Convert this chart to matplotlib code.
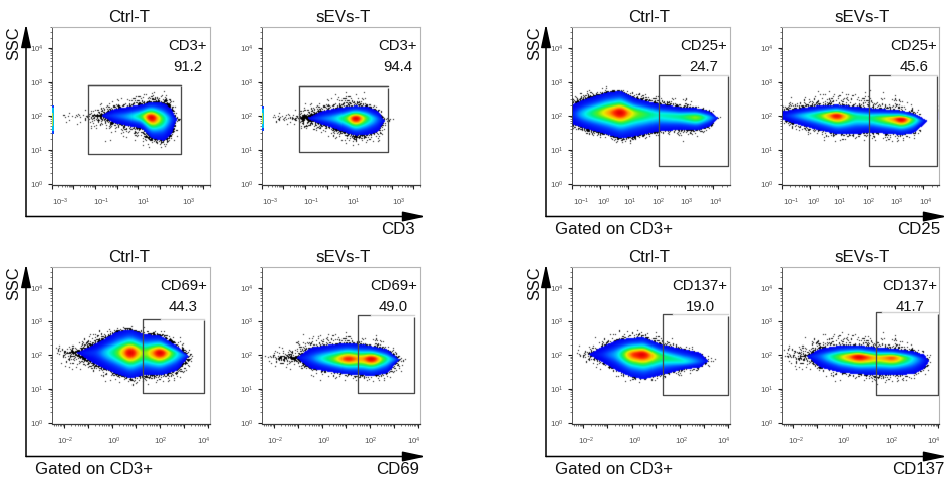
import numpy as np
import matplotlib
matplotlib.use("Agg")
import matplotlib.pyplot as plt
from matplotlib.colors import LinearSegmentedColormap
from matplotlib.patches import FancyArrowPatch

plt.rcParams['font.family'] = ['Liberation Sans', 'DejaVu Sans']
plt.rcParams['mathtext.fontset'] = 'custom'
plt.rcParams['mathtext.rm'] = 'Liberation Sans'
plt.rcParams['mathtext.default'] = 'rm'

# ---- values: log10 CD marker (x) and log10 SSC (y) ----
cd3_ctrl_x = [-2.8, -1.5, -1.0, -0.75, -0.15, 0.45, 1.1, 1.55, 2.15, 2.55, 2.7, 3.0]
cd3_ctrl_top = [2.0, 2.0, 2.0, 2.0, 2.19, 2.25, 2.31, 2.39, 2.36, 2.17, 1.9, 1.9]
cd3_ctrl_bot = [2.0, 2.0, 2.0, 2.0, 1.79, 1.70, 1.63, 1.33, 1.25, 1.48, 1.9, 1.9]
cd3_ctrl_mid = [2.0, 2.0, 2.0, 2.0, 2.0, 1.98, 1.98, 1.95, 1.9, 1.9, 1.9, 1.9]
cd3_ctrl_heat = [0, 0, 0, 0, .08, .18, .42, 1.0, .4, .05, 0, 0]
cd3_ctrl_otop = [2.07, 2.17, 2.31, 2.46, 2.56, 2.6, 2.75, 2.8, 2.75, 2.5, 2.36, 2.07]
cd3_ctrl_obot = [1.82, 1.58, 1.53, 1.48, 1.38, 1.28, 1.09, .99, .99, 1.09, 1.28, 1.77]
cd3_ctrl_dens = [.12, .15, .6, .7, .5, .4, .5, .6, .6, .6, .5, .05]

cd3_sev_x = [-2.77, -1.54, -1.15, -.95, -.31, .31, .92, 1.28, 1.85, 2.38, 2.62, 3.08]
cd3_sev_top = [1.92, 1.92, 1.92, 1.92, 2.12, 2.2, 2.26, 2.28, 2.26, 2.12, 1.85, 1.85]
cd3_sev_bot = [1.92, 1.92, 1.92, 1.92, 1.75, 1.63, 1.48, 1.41, 1.43, 1.53, 1.85, 1.85]
cd3_sev_mid = [1.92, 1.92, 1.92, 1.92, 1.92, 1.92, 1.92, 1.92, 1.92, 1.9, 1.85, 1.85]
cd3_sev_heat = [0, 0, 0, 0, .1, .22, .5, 1.0, .42, .08, 0, 0]
cd3_sev_otop = [2.07, 2.22, 2.36, 2.41, 2.51, 2.66, 2.75, 2.75, 2.6, 2.31, 2.17, 2.02]
cd3_sev_obot = [1.77, 1.63, 1.53, 1.48, 1.43, 1.24, 1.09, .99, 1.04, 1.19, 1.38, 1.77]
cd3_sev_dens = [.1, .25, .85, .9, .55, .45, .5, .5, .5, .55, .5, .05]

cd25_ctrl_x = [-1, -.59, .2, .71, 1.18, 2.0, 2.82, 3.41, 3.88, 4.14, 4.3]
cd25_ctrl_top = [2.31, 2.46, 2.66, 2.71, 2.51, 2.34, 2.24, 2.22, 2.12, 1.93, 1.93]
cd25_ctrl_bot = [1.75, 1.63, 1.45, 1.33, 1.38, 1.53, 1.58, 1.56, 1.68, 1.93, 1.93]
cd25_ctrl_mid = [2.05, 2.05, 2.09, 2.09, 2.07, 2.02, 1.97, 1.95, 1.95, 1.93, 1.93]
cd25_ctrl_heat = [.02, .3, .72, 1.0, .62, .35, .42, .62, .2, 0, 0]
cd25_ctrl_otop = [2.75, 2.8, 2.83, 2.83, 2.75, 2.66, 2.56, 2.36, 2.22, 2.07, 2.02]
cd25_ctrl_obot = [1.48, 1.38, 1.24, 1.09, 1.14, 1.38, 1.38, 1.38, 1.48, 1.77, 1.87]
cd25_ctrl_dens = [.6, .7, .7, .7, .6, .5, .5, .5, .4, .2, .02]

cd25_sev_x = [-1, -.59, .24, .94, 1.53, 2.12, 2.94, 3.24, 3.65, 4.0, 4.12]
cd25_sev_top = [2.12, 2.19, 2.28, 2.31, 2.26, 2.22, 2.17, 2.15, 2.07, 1.92, 1.85]
cd25_sev_bot = [1.89, 1.77, 1.58, 1.45, 1.45, 1.5, 1.45, 1.43, 1.48, 1.73, 1.85]
cd25_sev_mid = [2.0, 2.0, 2.0, 2.0, 1.97, 1.93, 1.9, 1.89, 1.89, 1.85, 1.85]
cd25_sev_heat = [0, .12, .45, .95, .42, .4, .75, 1.0, .45, 0, 0]
cd25_sev_otop = [2.46, 2.51, 2.71, 2.8, 2.8, 2.8, 2.66, 2.56, 2.36, 2.07, 1.97]
cd25_sev_obot = [1.73, 1.53, 1.28, 1.19, 1.19, 1.14, 1.09, 1.14, 1.28, 1.38, 1.68]
cd25_sev_dens = [.3, .5, .35, .35, .3, .3, .3, .3, .3, .2, .02]

cd69_ctrl_x = [-2.36, -1.8, -1.49, -.63, .21, .76, 1.32, 2.01, 2.71, 3.19, 3.47]
cd69_ctrl_top = [2.07, 2.07, 2.07, 2.34, 2.68, 2.74, 2.61, 2.56, 2.26, 1.97, 1.97]
cd69_ctrl_bot = [2.07, 2.07, 2.07, 1.7, 1.43, 1.31, 1.4, 1.4, 1.53, 1.97, 1.97]
cd69_ctrl_mid = [2.07, 2.07, 2.07, 2.07, 2.07, 2.07, 2.06, 2.07, 2.05, 1.97, 1.97]
cd69_ctrl_heat = [0, 0, 0, .08, .5, 1.0, .5, 1.0, .3, 0, 0]
cd69_ctrl_otop = [2.26, 2.36, 2.46, 2.8, 2.85, 2.87, 2.83, 2.8, 2.56, 2.26, 2.12]
cd69_ctrl_obot = [1.82, 1.53, 1.48, 1.33, 1.19, 1.04, 1.09, 1.09, 1.19, 1.43, 1.82]
cd69_ctrl_dens = [.15, .5, .65, .65, .6, .6, .5, .5, .6, .6, .1]

cd69_sev_x = [-2.43, -1.6, -1.07, -.49, .49, 1.04, 1.6, 2.08, 2.71, 3.22, 3.54]
cd69_sev_top = [1.92, 1.92, 1.92, 2.22, 2.31, 2.34, 2.31, 2.26, 2.17, 1.87, 1.87]
cd69_sev_bot = [1.92, 1.92, 1.92, 1.6, 1.48, 1.43, 1.4, 1.38, 1.46, 1.87, 1.87]
cd69_sev_mid = [1.92, 1.92, 1.92, 1.92, 1.89, 1.89, 1.89, 1.89, 1.89, 1.87, 1.87]
cd69_sev_heat = [0, 0, 0, .1, .55, .92, .7, 1.0, .35, 0, 0]
cd69_sev_otop = [2.17, 2.26, 2.41, 2.66, 2.75, 2.74, 2.61, 2.61, 2.41, 2.07, 1.97]
cd69_sev_obot = [1.73, 1.53, 1.53, 1.33, 1.24, 1.19, 1.14, 1.19, 1.19, 1.38, 1.68]
cd69_sev_dens = [.12, .5, .7, .35, .35, .35, .3, .35, .35, .4, .1]

cd137_ctrl_x = [-2.34, -1.83, -1.31, -.62, -.07, .48, 1.17, 2.14, 2.83, 3.13, 3.52]
cd137_ctrl_top = [2.02, 2.02, 2.22, 2.43, 2.49, 2.51, 2.31, 2.17, 2.07, 1.82, 1.82]
cd137_ctrl_bot = [2.02, 2.02, 1.82, 1.53, 1.36, 1.28, 1.4, 1.58, 1.63, 1.82, 1.82]
cd137_ctrl_mid = [2.02, 2.02, 2.02, 2.02, 2.02, 2.02, 1.95, 1.82, 1.82, 1.82, 1.82]
cd137_ctrl_heat = [0, 0, .03, .25, .85, 1.0, .5, .35, .1, 0, 0]
cd137_ctrl_otop = [2.22, 2.36, 2.61, 2.75, 2.8, 2.75, 2.75, 2.36, 2.22, 2.07, 2.02]
cd137_ctrl_obot = [1.82, 1.63, 1.48, 1.28, 1.19, 1.04, 1.19, 1.38, 1.38, 1.53, 1.63]
cd137_ctrl_dens = [.15, .35, .3, .3, .3, .35, .3, .3, .25, .25, .08]

cd137_sev_x = [-2.41, -1.86, -1.48, -.9, -.07, .69, 1.45, 2.14, 2.97, 3.49, 3.57, 3.79]
cd137_sev_top = [1.97, 1.97, 1.97, 2.19, 2.28, 2.28, 2.22, 2.19, 2.12, 2.0, 1.82, 1.82]
cd137_sev_bot = [1.97, 1.97, 1.97, 1.63, 1.48, 1.43, 1.41, 1.41, 1.43, 1.62, 1.82, 1.82]
cd137_sev_mid = [1.97, 1.97, 1.97, 1.97, 1.95, 1.95, 1.92, 1.92, 1.9, 1.85, 1.82, 1.82]
cd137_sev_heat = [0, 0, 0, .12, .6, 1.0, .7, .88, .3, 0, 0, 0]
cd137_sev_otop = [2.26, 2.41, 2.56, 2.66, 2.8, 2.75, 2.71, 2.61, 2.36, 2.22, 2.12, 2.02]
cd137_sev_obot = [1.68, 1.53, 1.48, 1.33, 1.19, 1.14, 1.04, 1.04, 1.14, 1.38, 1.43, 1.68]
cd137_sev_dens = [.15, .45, .5, .35, .3, .3, .35, .3, .3, .35, .3, .06]

# gates: x0, x1, y0, y1, x where the top edge turns pale
gate_cd3_ctrl = [-1.32, 2.95, .87, 2.90, 2.95]
gate_cd3_sev = [-1.26, 2.85, .94, 2.87, 2.85]
gate_cd25_ctrl = [2.08, 4.52, .52, 3.21, 2.86]
gate_cd25_sev = [2.08, 4.48, .52, 3.21, 2.86]
gate_cd69_ctrl = [1.29, 3.86, .89, 3.08, 2.06]
gate_cd69_sev = [1.51, 3.86, .89, 3.18, 2.06]
gate_cd137_ctrl = [1.28, 4.0, .82, 3.21, 1.72]
gate_cd137_sev = [1.41, 3.98, .82, 3.27, 1.68]

# events piled on the left edge of the CD3 plots (top, bottom log SSC)
edge_ctrl = [2.31, 1.46]
edge_sev = [2.28, 1.56]

titles = ['Ctrl-T', 'sEVs-T']
gate_names = ['CD3+', 'CD25+', 'CD69+', 'CD137+']
pct_ctrl = ['91.2', '24.7', '44.3', '19.0']
pct_sev = ['94.4', '45.6', '49.0', '41.7']
x_names = ['CD3', 'CD25', 'CD69', 'CD137']
gated_label = 'Gated on CD3+'
y_name = 'SSC'
y_decades = [0, 1, 2, 3, 4]
x_decades_cd3 = [-3, -1, 1, 3]
x_decades_cd25 = [-1, 0, 1, 2, 3, 4]
x_decades_cd69 = [-2, 0, 2, 4]
x_decades_cd137 = [-2, 0, 2, 4]

# ---- layout ----
W, H = 948, 479
fig = plt.figure(figsize=(W / 100, H / 100), dpi=100, facecolor='white')

cmap = LinearSegmentedColormap.from_list('pseudo', [
    (0.00, '#0000f0'), (0.10, '#0040ff'), (0.22, '#00a0ff'), (0.34, '#00f0f0'),
    (0.46, '#00f080'), (0.58, '#50f020'), (0.70, '#e8f000'), (0.82, '#ffa000'),
    (0.92, '#ff3000'), (1.00, '#e80000')])


def smooth(a, n):
    k = np.ones(n) / n
    pad = np.pad(a, n, mode='edge')
    return np.convolve(pad, k, mode='same')[n:-n]


def blur(img, w=0.13):
    out = img.copy()
    for ax_i in (0, 1):
        out = (1 - 2 * w) * out + w * np.roll(out, 1, ax_i) + w * np.roll(out, -1, ax_i)
    return out


def density_image(xlim, ylim, nx, ny, x, top, bot, mid, heat, otop, obot, dens):
    gx = np.linspace(xlim[0], xlim[1], nx)
    gy = np.linspace(ylim[1], ylim[0], ny)
    f = lambda a: smooth(np.interp(gx, x, a), 5)
    t, b, m, ot, ob, dd = map(f, (top, bot, mid, otop, obot, dens))
    hh = smooth(np.interp(gx, x, heat), 9)
    hh = hh * (max(heat) / max(hh.max(), 1e-6))
    X, Y = np.meshgrid(gx, gy)
    T, B, M, HH = t[None], b[None], m[None], hh[None]
    OT, OB, DD = ot[None], ob[None], dd[None]
    inside = (Y <= T) & (Y >= B) & (T - B > 0.035)
    u = np.where(Y >= M, (Y - M) / np.maximum(T - M, 1e-3), (M - Y) / np.maximum(M - B, 1e-3))
    v = HH * np.exp(-(u / 0.5) ** 2)
    s = np.where(Y >= T, (Y - T) / np.maximum(OT - T, 1e-3), (B - Y) / np.maximum(B - OB, 1e-3))
    s = np.clip(s, 0, None)
    # dense rim against the blue edge, thin scatter out to the outer limit
    d = DD * (1.05 * np.exp(-s / 0.20) + 0.30 * np.clip(1 - s, 0, 1) ** 1.2 * (s < 1))
    d[:, (gx < x[0]) | (gx > x[-1])] = 0
    # fixed dither screen: turns the dot density read above into single black specks
    jj, ii = np.meshgrid(np.arange(nx), np.arange(ny))
    th = (np.sin(ii * 12.9898 + jj * 78.233) * 43758.5453) % 1.0
    rgb = np.ones((ny, nx, 3))
    rgb[(d > th) & ~inside] = 0.0
    col = cmap(np.clip(v, 0, 1))[..., :3]
    rgb[inside] = col[inside]
    return np.clip(blur(rgb), 0, 1)


def panel(box, xlim, x_dec, lab_pos, data, gate, name, pct, px_name, px_pct, py_name, py_pct, edge=None):
    l, t, r, b = box
    ax = fig.add_axes([l / W, 1 - b / H, (r - l) / W, (b - t) / H])
    ylim = (-0.04, 4.62)
    ax.imshow(density_image(xlim, ylim, int(round(r - l)), int(round(b - t)), *data),
              extent=(xlim[0], xlim[1], ylim[0], ylim[1]), aspect='auto',
              interpolation='nearest', zorder=1)
    ax.set_xlim(xlim)
    ax.set_ylim(ylim)
    if edge is not None:
        e_t, e_b = edge
        e_m = (e_t + e_b) / 2
        w = (xlim[1] - xlim[0]) / (r - l)
        for frac, wid, c in ((1.0, 2.6, '#1040ff'), (.8, 2.0, '#00c0f0'), (.45, 1.4, '#b0e040')):
            ax.fill_betweenx([e_m - (e_m - e_b) * frac, e_m + (e_t - e_m) * frac],
                             xlim[0], xlim[0] + wid * w, color=c, lw=0, zorder=5)
    # gate
    gc = '#4a4a4a'
    x0, x1, y0, y1, xs = gate
    ax.plot([xs, x0, x0, x1, x1], [y1, y1, y0, y0, y1 - 0.04], color=gc, lw=0.95, zorder=4,
            solid_capstyle='butt')
    if xs < x1:
        ax.plot([xs, x1], [y1, y1], color='#d4d4d4', lw=1.0, zorder=4)
    else:
        ax.plot([x0, x1], [y1, y1], color=gc, lw=0.95, zorder=4)
    # frame
    for sp in ('top', 'right'):
        ax.spines[sp].set_color('#b4b4b4')
        ax.spines[sp].set_linewidth(0.8)
    for sp in ('left', 'bottom'):
        ax.spines[sp].set_color('#3a3a3a')
        ax.spines[sp].set_linewidth(0.6)
    ax.spines['bottom'].set_linewidth(0.9)
    ax.set_yticks(y_decades)
    ax.set_yticklabels([f'$10^{{{d}}}$' for d in y_decades])
    minor = np.log10(np.arange(2, 10))
    ax.set_yticks([d + m for d in range(0, 5) for m in minor if d + m < ylim[1]], minor=True)
    dec_all = np.arange(np.floor(xlim[0]), np.ceil(xlim[1]) + 1)
    ax.set_xticks([d for d in dec_all if xlim[0] <= d <= xlim[1]])
    ax.set_xticklabels([])
    ax.set_xticks([d + m for d in dec_all for m in minor if xlim[0] <= d + m <= xlim[1]], minor=True)
    ax.tick_params(axis='both', which='major', length=3.2, width=0.8, color='#222222',
                   labelsize=5.6, labelcolor='#505050', pad=2.5)
    ax.tick_params(axis='both', which='minor', length=1.6, width=0.5, color='#444444')
    trans = ax.get_xaxis_transform()
    for d, p in zip(x_dec, lab_pos):
        ax.annotate(f'$10^{{{d}}}$', xy=(p, 0), xycoords=trans, xytext=(0, -12.5),
                    textcoords='offset points', ha='center', va='center',
                    fontsize=5.6, color='#505050', annotation_clip=False)
    # annotation text in the overlay
    over.text(px_name, py_name, name, ha='right', va='center', fontsize=10.7, color='#111111')
    over.text(px_pct, py_pct, pct, ha='center', va='center', fontsize=10.7, color='#111111')
    return ax


over = fig.add_axes([0, 0, 1, 1], zorder=10)
over.set_xlim(0, W)
over.set_ylim(H, 0)
over.axis('off')
over.patch.set_alpha(0)

L_COL = [(51.7, 210), (261.7, 420)]
R_COL = [(571.7, 730), (781.7, 938.5)]
ROW1, ROW2 = (26.7, 185), (266.7, 424)

panel((L_COL[0][0], ROW1[0], L_COL[0][1], ROW1[1]), (-3.0, 4.31), x_decades_cd3, [-2.58, -.69, 1.23, 3.31],
      (cd3_ctrl_x, cd3_ctrl_top, cd3_ctrl_bot, cd3_ctrl_mid, cd3_ctrl_heat, cd3_ctrl_otop, cd3_ctrl_obot, cd3_ctrl_dens),
      gate_cd3_ctrl, gate_names[0], pct_ctrl[0], 207, 188, 46, 67, edge_ctrl)
panel((L_COL[1][0], ROW1[0], L_COL[1][1], ROW1[1]), (-3.0, 4.31), x_decades_cd3, [-2.58, -.69, 1.23, 3.31],
      (cd3_sev_x, cd3_sev_top, cd3_sev_bot, cd3_sev_mid, cd3_sev_heat, cd3_sev_otop, cd3_sev_obot, cd3_sev_dens),
      gate_cd3_sev, gate_names[0], pct_sev[0], 417, 398, 46, 67, edge_sev)
panel((R_COL[0][0], ROW1[0], R_COL[0][1], ROW1[1]), (-1.0, 4.59), x_decades_cd25, [-.67, .12, 1.06, 2.06, 3.06, 4.09],
      (cd25_ctrl_x, cd25_ctrl_top, cd25_ctrl_bot, cd25_ctrl_mid, cd25_ctrl_heat, cd25_ctrl_otop, cd25_ctrl_obot, cd25_ctrl_dens),
      gate_cd25_ctrl, gate_names[1], pct_ctrl[1], 727, 704, 46, 67)
panel((R_COL[1][0], ROW1[0], R_COL[1][1], ROW1[1]), (-1.0, 4.53), x_decades_cd25, [-.67, .12, 1.06, 2.06, 3.06, 4.09],
      (cd25_sev_x, cd25_sev_top, cd25_sev_bot, cd25_sev_mid, cd25_sev_heat, cd25_sev_otop, cd25_sev_obot, cd25_sev_dens),
      gate_cd25_sev, gate_names[1], pct_sev[1], 937, 914, 46, 67)
panel((L_COL[0][0], ROW2[0], L_COL[0][1], ROW2[1]), (-2.5, 4.1), x_decades_cd69, [-1.92, .07, 2.06, 3.85],
      (cd69_ctrl_x, cd69_ctrl_top, cd69_ctrl_bot, cd69_ctrl_mid, cd69_ctrl_heat, cd69_ctrl_otop, cd69_ctrl_obot, cd69_ctrl_dens),
      gate_cd69_ctrl, gate_names[2], pct_ctrl[2], 207, 183, 286, 307)
panel((L_COL[1][0], ROW2[0], L_COL[1][1], ROW2[1]), (-2.5, 4.1), x_decades_cd69, [-1.92, .07, 2.06, 3.85],
      (cd69_sev_x, cd69_sev_top, cd69_sev_bot, cd69_sev_mid, cd69_sev_heat, cd69_sev_otop, cd69_sev_obot, cd69_sev_dens),
      gate_cd69_sev, gate_names[2], pct_sev[2], 417, 393, 286, 307)
panel((R_COL[0][0], ROW2[0], R_COL[0][1], ROW2[1]), (-2.48, 4.07), x_decades_cd137, [-1.86, .11, 2.07, 3.82],
      (cd137_ctrl_x, cd137_ctrl_top, cd137_ctrl_bot, cd137_ctrl_mid, cd137_ctrl_heat, cd137_ctrl_otop, cd137_ctrl_obot, cd137_ctrl_dens),
      gate_cd137_ctrl, gate_names[3], pct_ctrl[3], 727, 700, 286, 307)
panel((R_COL[1][0], ROW2[0], R_COL[1][1], ROW2[1]), (-2.48, 4.02), x_decades_cd137, [-1.86, .11, 2.07, 3.82],
      (cd137_sev_x, cd137_sev_top, cd137_sev_bot, cd137_sev_mid, cd137_sev_heat, cd137_sev_otop, cd137_sev_obot, cd137_sev_dens),
      gate_cd137_sev, gate_names[3], pct_sev[3], 937, 910, 286, 307)

# titles, axis names, L-shaped arrows
for ty in (17, 257):
    for cx, title in zip((129, 343), titles):
        over.text(cx, ty, title, ha='center', va='center', fontsize=12.2, color='#111111')
    for cx, title in zip((649, 862), titles):
        over.text(cx, ty, title, ha='center', va='center', fontsize=12.2, color='#111111')

for ox, oy, ex, ytop, sx, sy in ((26, 216.5, 426, 24, 14, 43), (546, 216.5, 947, 24, 535, 43),
                                 (26, 456.5, 426, 264, 14, 283), (546, 456.5, 947, 264, 535, 283)):
    for tip in ((ox, ytop), (ex, oy)):
        over.add_patch(FancyArrowPatch((ox, oy), tip, arrowstyle='-|>,head_length=1.5,head_width=0.32',
                                       mutation_scale=9.5, lw=1.1, color='black',
                                       shrinkA=0, shrinkB=0, zorder=5))
    over.text(sx, sy, y_name, rotation=90, ha='center', va='center', fontsize=11.8, color='#111111')

over.text(415, 229, x_names[0], ha='right', va='center', fontsize=12.2, color='#111111')
over.text(940, 229, x_names[1], ha='right', va='center', fontsize=12.2, color='#111111')
over.text(419, 469, x_names[2], ha='right', va='center', fontsize=12.2, color='#111111')
over.text(945, 469, x_names[3], ha='right', va='center', fontsize=12.2, color='#111111')
over.text(555, 229, gated_label, ha='left', va='center', fontsize=12.2, color='#111111')
over.text(35, 469, gated_label, ha='left', va='center', fontsize=12.2, color='#111111')
over.text(555, 469, gated_label, ha='left', va='center', fontsize=12.2, color='#111111')

fig.savefig('out.png', dpi=100)
